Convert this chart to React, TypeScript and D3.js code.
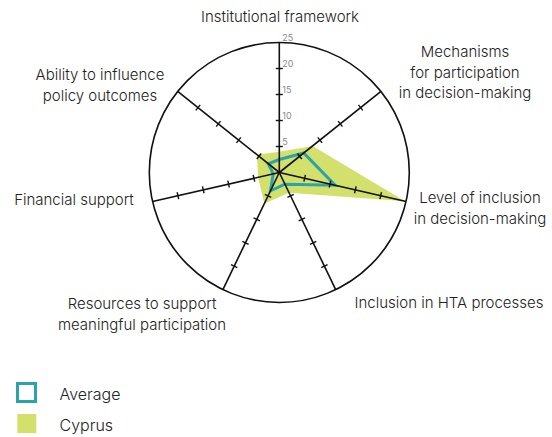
import { useEffect, useRef } from "react";
import * as d3 from "d3";

// axis labels, clockwise from the top
const categories = [
  ["Institutional framework"],
  ["Mechanisms", "for participation", "in decision-making"],
  ["Level of inclusion", "in decision-making"],
  ["Inclusion in HTA processes"],
  ["Resources to support", "meaningful participation"],
  ["Financial support"],
  ["Ability to influence", "policy outcomes"],
];

const cyprus = [4, 8.2, 24.8, 4.3, 6.6, 4.2, 5.5];
const average = [2.5, 6, 11, 2.5, 3.9, 1.2, 2.7];

const tickValues = [5, 10, 15, 20, 25];

const legendItems = ["Average", "Cyprus"];

const TEAL = "#2aa3a9";
const GREEN = "#d4e06c";

export default function App() {
  const svgRef = useRef<SVGSVGElement>(null);

  useEffect(() => {
    d3.select(svgRef.current).selectAll("*").remove();

    const width = 552;
    const height = 437;
    const cx = 279.3;
    const cy = 172.5;
    const font = "Inter, 'Open Sans', sans-serif";

    const svg = d3.select(svgRef.current)
      .attr("width", width)
      .attr("height", height)
      .style("position", "absolute")
      .style("left", "0px")
      .style("top", "0px")
      .style("background", "#fff");

    const r = d3.scaleLinear().domain([0, 25]).range([0, 130]);
    const n = categories.length;
    const angle = (i: number) => (i * 2 * Math.PI) / n;
    const pt = (i: number, v: number): [number, number] => [
      Math.sin(angle(i)) * r(v),
      -Math.cos(angle(i)) * r(v),
    ];

    const g = svg.append("g").attr("transform", `translate(${cx},${cy})`);

    const line = d3.line<number>()
      .x((d, i) => pt(i, d)[0])
      .y((d, i) => pt(i, d)[1])
      .curve(d3.curveLinearClosed);

    // Cyprus area
    g.append("path")
      .attr("d", line(cyprus))
      .attr("fill", GREEN)
      .attr("stroke", "none");

    // Average outline
    g.append("path")
      .attr("d", line(average))
      .attr("fill", "none")
      .attr("stroke", TEAL)
      .attr("stroke-width", 3)
      .attr("stroke-linejoin", "miter");

    // outer circle
    g.append("circle")
      .attr("r", r(25))
      .attr("fill", "none")
      .attr("stroke", "#111")
      .attr("stroke-width", 1.6);

    // spokes and ticks
    categories.forEach((_, i) => {
      const [x2, y2] = pt(i, 25);
      g.append("line")
        .attr("x1", 0).attr("y1", 0)
        .attr("x2", x2).attr("y2", y2)
        .attr("stroke", "#111")
        .attr("stroke-width", 1.6);

      const a = angle(i);
      const px = Math.cos(a) * 3.5;
      const py = Math.sin(a) * 3.5;
      tickValues.slice(0, -1).forEach((v) => {
        const [tx, ty] = pt(i, v);
        g.append("line")
          .attr("x1", tx - px).attr("y1", ty - py)
          .attr("x2", tx + px).attr("y2", ty + py)
          .attr("stroke", "#111")
          .attr("stroke-width", 1.4);
      });
    });

    // scale labels on the first axis
    tickValues.forEach((v) => {
      g.append("text")
        .attr("x", 3)
        .attr("y", -r(v) - 1.5)
        .attr("font-family", font)
        .attr("font-size", 9)
        .attr("fill", "#8a8a8a")
        .text(v);
    });

    // category labels
    const labelPos: [number, number][] = [
      [280, 22],
      [465, 57],
      [480, 203],
      [449, 308],
      [142, 309],
      [74, 205],
      [100, 80],
    ];
    categories.forEach((lines, i) => {
      const [lx, ly] = labelPos[i];
      const t = svg.append("text")
        .attr("x", lx)
        .attr("y", ly)
        .attr("text-anchor", "middle")
        .attr("font-family", font)
        .attr("font-weight", 300)
        .attr("font-size", 15)
        .attr("fill", "#222");
      lines.forEach((s, k) => {
        t.append("tspan")
          .attr("x", lx)
          .attr("dy", k === 0 ? 0 : 20.5)
          .text(s);
      });
    });

    // legend
    const legend = svg.append("g");
    legendItems.forEach((name, i) => {
      const y = 383 + i * 31;
      if (i === 0) {
        legend.append("rect")
          .attr("x", 17.5).attr("y", y + 0.5)
          .attr("width", 18).attr("height", 18)
          .attr("fill", "none")
          .attr("stroke", TEAL)
          .attr("stroke-width", 3);
      } else {
        legend.append("rect")
          .attr("x", 17.3).attr("y", y)
          .attr("width", 19).attr("height", 19)
          .attr("fill", GREEN);
      }
      legend.append("text")
        .attr("x", 59.5)
        .attr("y", y + 16.5)
        .attr("font-family", font)
        .attr("font-weight", 300)
        .attr("font-size", 16)
        .attr("fill", "#222")
        .text(name);
    });
  }, []);

  return <svg ref={svgRef}></svg>;
}
